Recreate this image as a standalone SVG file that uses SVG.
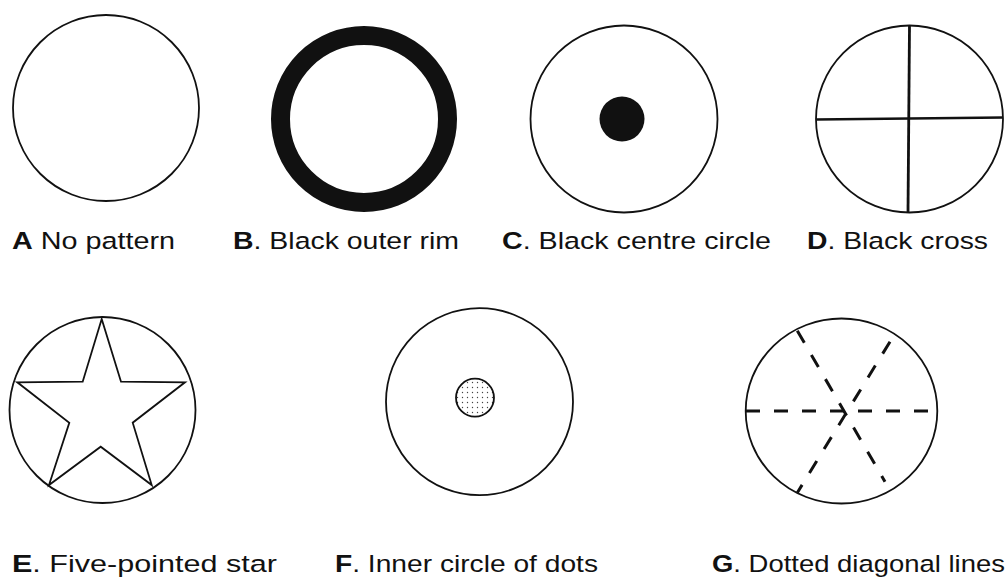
<svg xmlns="http://www.w3.org/2000/svg" width="1007" height="578" viewBox="0 0 1007 578">
<style>
.o{fill:none;stroke:#111;stroke-width:1.8}
.lbl{font-family:"Liberation Sans",Arial,sans-serif;font-size:24.5px;fill:#111}
.b{font-weight:bold}
.dash{stroke:#111;stroke-width:3;stroke-dasharray:14 14;fill:none}
</style>
<defs>
<pattern id="dots" width="5" height="5" patternUnits="userSpaceOnUse">
<rect width="5" height="5" fill="#fff"/>
<circle cx="2.5" cy="2.5" r="0.7" fill="#444"/>
</pattern>
</defs>
<rect width="1007" height="578" fill="#fff"/>
<g id="A">
<circle class="o" cx="106" cy="108" r="93"/>
<text class="lbl" x="12" y="248.5" textLength="163" lengthAdjust="spacingAndGlyphs"><tspan class="b">A</tspan> No pattern</text>
</g>
<g id="B">
<circle cx="364" cy="119" r="83.5" fill="none" stroke="#111" stroke-width="19"/>
<text class="lbl" x="233" y="248.5" textLength="226" lengthAdjust="spacingAndGlyphs"><tspan class="b">B</tspan>. Black outer rim</text>
</g>
<g id="C">
<circle class="o" cx="624" cy="119" r="93.5"/>
<circle cx="622" cy="119" r="22.5" fill="#111"/>
<text class="lbl" x="502" y="248.5" textLength="269" lengthAdjust="spacingAndGlyphs"><tspan class="b">C</tspan>. Black centre circle</text>
</g>
<g id="D">
<circle class="o" cx="909.5" cy="119" r="93.5"/>
<line x1="909.5" y1="26" x2="908" y2="212" stroke="#111" stroke-width="2.8"/>
<line x1="816" y1="119.5" x2="1003" y2="117.5" stroke="#111" stroke-width="2.6"/>
<text class="lbl" x="807" y="248.5" textLength="181" lengthAdjust="spacingAndGlyphs"><tspan class="b">D</tspan>. Black cross</text>
</g>
<g id="E">
<circle class="o" cx="102.5" cy="410" r="93"/>
<polygon class="o" points="101.7,319 121,381.7 185,382.3 132.7,422.7 151.7,485 100.7,446.7 49,485 69.3,422.7 17.3,382.3 82.7,381.7" stroke-width="1.6"/>
<text class="lbl" x="12" y="572" textLength="265" lengthAdjust="spacingAndGlyphs"><tspan class="b">E</tspan>. Five-pointed star</text>
</g>
<g id="F">
<circle class="o" cx="479.5" cy="401.7" r="93.5"/>
<circle cx="475" cy="397.7" r="19" fill="url(#dots)" stroke="#111" stroke-width="1.8"/>
<text class="lbl" x="335" y="572" textLength="263" lengthAdjust="spacingAndGlyphs"><tspan class="b">F</tspan>. Inner circle of dots</text>
</g>
<g id="G">
<ellipse class="o" cx="841.5" cy="411" rx="95.8" ry="92.5"/>
<line class="dash" x1="746" y1="411" x2="930" y2="411"/>
<line class="dash" x1="797.3" y1="330.7" x2="885" y2="481.7"/>
<line class="dash" x1="890" y1="341.7" x2="797.3" y2="492.7"/>
<text class="lbl" x="712" y="572" textLength="293" lengthAdjust="spacingAndGlyphs"><tspan class="b">G</tspan>. Dotted diagonal lines</text>
</g>
</svg>
